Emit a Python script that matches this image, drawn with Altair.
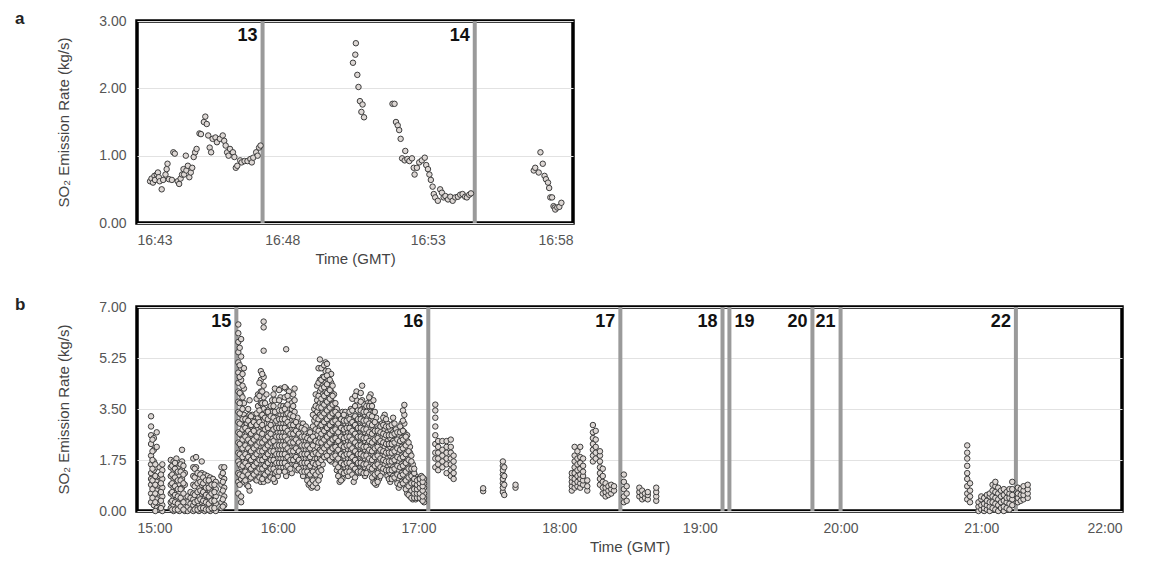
import altair as alt
import pandas as pd

# ---------------- Panel a : minutes after 16:43 GMT ----------------
A_MIN = [0.45, 0.50, 0.55, 0.60, 0.62, 0.68, 0.72, 0.75, 0.78, 0.85, 0.90, 0.98, 1.02, 1.05, 1.10,
         1.20, 1.25, 1.30, 1.40, 1.45, 1.50, 1.55, 1.60, 1.62, 1.68, 1.70, 1.75, 1.80, 1.85, 1.90,
         1.95, 2.00, 2.05, 2.15, 2.20, 2.30, 2.35, 2.40, 2.45, 2.50, 2.55, 2.60, 2.70, 2.75, 2.85,
         2.95, 3.00, 3.05, 3.10, 3.15, 3.20, 3.30, 3.35, 3.40, 3.45, 3.55, 3.60, 3.70, 3.80, 3.90,
         3.95, 4.00, 4.10, 4.15, 4.20, 4.25,
         7.43, 7.51, 7.53, 7.58, 7.62, 7.67, 7.72, 7.76, 7.81,
         8.79, 8.86, 8.91, 8.97, 9.02, 9.07, 9.12, 9.21, 9.23, 9.30, 9.37, 9.46, 9.52, 9.55, 9.63,
         9.71, 9.80, 9.90, 9.95, 10.01, 10.06, 10.11, 10.17, 10.21, 10.26, 10.35, 10.43, 10.49,
         10.55, 10.61, 10.70, 10.78, 10.86, 10.95, 11.04, 11.12, 11.20, 11.29, 11.35, 11.43, 11.49,
         13.65, 13.70, 13.82, 13.88, 13.96, 14.02, 14.07, 14.14, 14.18, 14.22, 14.28, 14.33, 14.37,
         14.39, 14.46, 14.53, 14.60]
A_VAL = [0.62, 0.66, 0.60, 0.70, 0.64, 0.72, 0.75, 0.68, 0.62, 0.50, 0.64, 0.72, 0.80, 0.88, 0.65,
         0.64, 1.05, 1.03, 0.62, 0.58, 0.66, 0.72, 0.80, 0.72, 1.00, 0.78, 0.85, 0.68, 0.75, 0.82,
         0.98, 1.05, 1.10, 1.33, 1.32, 1.50, 1.58, 1.47, 1.30, 1.12, 1.05, 1.25, 1.27, 1.20, 1.25,
         1.30, 1.22, 1.15, 1.05, 1.00, 1.10, 1.05, 0.98, 0.82, 0.85, 0.93, 0.90, 0.92, 0.92, 0.95,
         0.90, 0.97, 1.05, 1.00, 1.12, 1.15,
         2.38, 2.50, 2.67, 2.20, 2.02, 1.81, 1.65, 1.76, 1.57,
         1.77, 1.77, 1.50, 1.45, 1.38, 1.25, 0.96, 0.93, 1.07, 0.95, 0.92, 0.96, 0.82, 0.72, 0.82,
         0.90, 0.93, 0.97, 0.86, 0.80, 0.72, 0.64, 0.54, 0.43, 0.38, 0.33, 0.50, 0.45,
         0.38, 0.40, 0.35, 0.39, 0.33, 0.38, 0.39, 0.42, 0.43, 0.39, 0.38, 0.42, 0.44,
         0.78, 0.82, 0.75, 1.05, 0.88, 0.70, 0.65, 0.60, 0.52, 0.38, 0.38, 0.25, 0.23,
         0.20, 0.23, 0.24, 0.30]
A_LINE_MIN = [4.32, 11.62]
A_LINE_LABEL = ["13", "14"]
A_TICKS = [0, 5, 10, 15]
A_YTICKS = [0, 1, 2, 3]

# ---------------- Panel b : decimal hours GMT ----------------
B_HOURS = [
    15.10, 15.12, 15.14, 15.16, 15.18, 15.24, 15.26, 15.28, 15.30, 15.32, 15.34, 15.36, 15.38,
    15.40, 15.42, 15.44, 15.46, 15.48, 15.50, 15.52, 15.54, 15.56, 15.60, 15.62,
    15.72, 15.74, 15.76, 15.78, 15.80, 15.82, 15.84, 15.86, 15.88, 15.90, 15.92, 15.94, 15.96,
    15.98, 16.00, 16.02, 16.04, 16.06, 16.08, 16.10, 16.12, 16.14, 16.16, 16.18, 16.20, 16.22,
    16.24, 16.26, 16.28, 16.30, 16.32, 16.34, 16.36, 16.38, 16.40, 16.42, 16.44, 16.46, 16.48,
    16.50, 16.52, 16.54, 16.56, 16.58, 16.60, 16.62, 16.64, 16.66, 16.68, 16.70, 16.72, 16.74,
    16.76, 16.78, 16.80, 16.82, 16.84, 16.86, 16.88, 16.90, 16.92, 16.94, 16.96, 16.98, 17.00,
    17.02, 17.04,
    17.12, 17.14, 17.17, 17.20, 17.23, 17.25, 17.46, 17.60, 17.61, 17.69,
    18.09, 18.11, 18.13, 18.15, 18.17, 18.20, 18.24, 18.26, 18.29, 18.31, 18.33, 18.35, 18.37,
    18.39, 18.46, 18.48, 18.57, 18.59, 18.61, 18.63, 18.69,
    20.90, 20.92, 20.98, 21.00, 21.02, 21.04, 21.06, 21.08, 21.10, 21.12, 21.14, 21.16, 21.18,
    21.20, 21.22, 21.26, 21.28, 21.30, 21.33]
B_VALUES = [
    "0.3 0.6 0.9 1.1 1.3 1.6 1.9 2.3 2.6 2.9 3.25",
    "0.2 0.5 0.8 1.0 1.4 1.7 2.1 2.5",
    "0.1 0.4 0.7 1.0 1.5 2.2 2.7",
    "0.05 0.3 0.6 0.9 1.2 1.5",
    "0.0 0.2 0.5 0.8 1.1 1.4 1.6",
    "0.1 0.3 0.6 0.9 1.2 1.5 1.75",
    "0.0 0.2 0.5 0.8 1.1 1.4 1.7",
    "0.1 0.4 0.7 1.0 1.3 1.6 1.8",
    "0.0 0.3 0.6 0.9 1.2 1.5",
    "0.1 0.4 0.8 1.1 1.4 1.7 2.1",
    "0.0 0.2 0.5 0.9 1.3",
    "0.0 0.15 0.3 0.5",
    "0.05 0.25 0.45 0.65",
    "0.0 0.2 0.4 0.6 0.9 1.2 1.5 1.8",
    "0.1 0.3 0.6 0.9 1.2 1.5 1.85",
    "0.0 0.25 0.5 0.8 1.1",
    "0.05 0.3 0.6 0.9 1.3 1.7",
    "0.0 0.2 0.45 0.75 1.0 1.25",
    "0.1 0.35 0.6 0.9 1.2",
    "0.0 0.2 0.4 0.7 1.0 1.15",
    "0.05 0.3 0.55 0.85 1.1",
    "0.0 0.25 0.5 0.75 1.0",
    "0.1 0.3 0.6 0.9 1.2 1.5",
    "0.2 0.5 0.8 1.1 1.5",
    # after line 15
    "0.6 1.0 1.3 1.7 2.0 2.35 2.7 3.05 3.4 3.75 4.1 4.4 4.75 5.1 5.45 5.8 6.1 6.4",
    "0.3 0.5 1.1 1.5 1.9 2.2 2.6 3.0 3.3 3.7 4.0 4.5 4.9 5.3 5.9",
    "1.0 1.3 1.7 2.0 2.3 2.6 2.9 3.3 3.7 4.2 4.9",
    "0.9 1.2 1.5 1.8 2.1 2.4 2.7 3.0 3.2",
    "0.7 1.1 1.4 1.7 2.0 2.3 2.6 2.9 3.3 3.8",
    "1.3 1.6 1.9 2.2 2.5 2.8 3.1 3.3",
    "1.1 1.4 1.7 2.0 2.3 2.6 2.8 3.0",
    "1.2 1.5 1.8 2.1 2.4 2.8 3.2 3.6 4.0",
    "1.0 1.3 1.6 1.9 2.2 2.5 2.9 3.3 3.7 4.1 4.5 4.8",
    "1.0 1.3 1.6 1.9 2.2 2.5 2.8 3.1 3.5 3.9 4.3 4.6 5.5 6.3 6.5",
    "1.1 1.4 1.7 2.0 2.3 2.6 3.0 3.4 4.0",
    "1.2 1.5 1.8 2.1 2.4 2.7 3.0 3.3 3.5",
    "1.3 1.6 1.9 2.2 2.5 2.8 3.1 3.4 3.8",
    "1.0 1.3 1.6 1.9 2.2 2.6 3.0 3.4 3.8 4.2",
    "1.2 1.5 1.8 2.1 2.4 2.7 3.0 3.2",
    "1.5 1.8 2.1 2.4 2.7 3.0 3.3 3.6 3.9 4.2",
    "1.5 1.8 2.1 2.4 2.7 3.0 3.3 3.6",
    "1.2 1.5 1.8 2.1 2.4 2.7 3.0 3.3 3.6 3.9 4.2 5.55",
    "1.4 1.7 2.0 2.3 2.6 2.9 3.2 3.5 3.8 4.1",
    "1.3 1.6 1.9 2.2 2.5 2.8 3.1 3.5 3.7",
    "1.6 1.9 2.2 2.5 2.8 3.1 3.4 3.8 4.2",
    "1.4 1.7 2.0 2.3 2.6 2.9 3.2",
    "1.6 1.9 2.2 2.5 2.8 3.0",
    "1.2 1.5 1.8 2.1 2.4 2.7 3.0",
    "1.5 1.8 2.1 2.4 2.7 2.9",
    "0.9 1.2 1.5 1.8 2.1 2.4 2.6",
    "0.8 1.1 1.4 1.7 2.0 2.3 2.6 2.8",
    "0.9 1.2 1.5 1.8 2.1 2.4 2.7 3.1 3.5",
    "0.8 1.1 1.4 1.8 2.2 2.6 3.0 3.4 3.8 4.3",
    "1.2 1.5 1.8 2.1 2.5 2.9 3.3 3.7 4.1 4.5 4.9 5.2",
    "1.6 1.9 2.2 2.5 2.8 3.1 3.4 3.7 4.0 4.3 4.6",
    "2.0 2.3 2.6 2.9 3.2 3.5 3.8 4.1 4.4 4.8 5.1",
    "1.8 2.1 2.4 2.7 3.0 3.3 3.6 3.9 4.2 4.5 4.8",
    "1.7 2.0 2.3 2.6 2.9 3.2 3.5 3.8 4.1 4.4 4.7",
    "2.2 2.5 2.8 3.1 3.4 3.7 4.0",
    "1.4 1.7 2.0 2.3 2.6 2.9 3.2 3.5",
    "1.0 1.3 1.6 1.9 2.2 2.5 2.8 3.2",
    "1.1 1.4 1.7 2.0 2.3 2.6 2.9 3.1 3.4",
    "1.5 1.8 2.1 2.4 2.7 3.0 3.2 3.4",
    "1.2 1.5 1.8 2.1 2.4 2.7 3.0 3.2",
    "1.5 1.8 2.1 2.4 2.7 3.0 3.3 3.5",
    "1.0 1.3 1.6 1.9 2.2 2.5 2.8 3.0 3.2",
    "1.4 1.7 2.0 2.3 2.6 2.9 3.2 3.5 3.8 4.1",
    "1.3 1.6 1.9 2.2 2.5 2.8 3.1 3.4 3.6",
    "1.4 1.7 2.0 2.3 2.6 2.9 3.2 3.5 3.8 4.3",
    "1.2 1.5 1.8 2.1 2.4 2.7 3.0 3.3 3.5",
    "1.4 1.7 2.0 2.3 2.6 2.9 3.2 3.5 3.7",
    "1.6 1.9 2.2 2.5 2.8 3.1 3.4 3.7 4.0",
    "1.0 1.3 1.6 1.9 2.2 2.5 2.8 3.1 3.4 3.8",
    "0.9 1.2 1.5 1.8 2.1 2.4 2.7 3.0 3.2",
    "1.1 1.4 1.7 2.0 2.3 2.6 2.8",
    "1.3 1.6 1.9 2.2 2.5 2.8 3.0",
    "1.6 1.9 2.2 2.5 2.8 3.1 3.3",
    "1.2 1.5 1.8 2.1 2.4 2.7 3.0",
    "1.0 1.3 1.6 1.9 2.2 2.5 2.8",
    "1.2 1.5 1.8 2.1 2.4 2.7 3.0 3.2",
    "1.1 1.4 1.7 2.0 2.3 2.6 2.8",
    "0.8 1.1 1.4 1.7 2.0 2.3 2.6",
    "1.0 1.3 1.6 1.9 2.2 2.5 2.8 3.0",
    "0.9 1.2 1.5 1.8 2.1 2.4 2.7 3.0 3.3 3.64",
    "0.6 0.9 1.2 1.5 1.8 2.1 2.4 2.6",
    "0.5 0.8 1.1 1.4 1.7 2.0 2.2",
    "0.4 0.6 0.8 1.0 1.2 1.4 1.6",
    "0.4 0.55 0.7 0.85 1.0 1.2",
    "0.5 0.65 0.8 0.95 1.1",
    "0.4 0.55 0.7 0.9 1.05 1.2",
    "0.3 0.45 0.6 0.8 0.95 1.1",
    # after line 16
    "1.5 1.8 2.0 2.3 2.6 2.9 3.2 3.45 3.65",
    "1.4 1.6 1.8 2.0 2.2 2.4",
    "1.5 1.7 1.9 2.1 2.4",
    "1.3 1.6 1.8 2.0 2.2 2.4",
    "1.2 1.4 1.6 1.8 2.0 2.2 2.45",
    "1.1 1.3 1.5 1.7 1.9",
    "0.68 0.78",
    "0.65 0.8 0.95 1.1 1.25 1.4 1.55 1.7",
    "0.55 0.9 1.2 1.5",
    "0.8 0.9",
    "0.7 0.85 1.0 1.15 1.3",
    "0.8 0.95 1.1 1.3 1.5 1.7 1.9 2.2",
    "0.85 1.0 1.2 1.4 1.6 1.8 2.05",
    "0.8 0.95 1.1 1.25 1.45 1.65 1.85 2.2",
    "0.9 1.05 1.2 1.35 1.55 1.8",
    "0.7 0.85 1.05",
    "1.7 1.9 2.1 2.3 2.5 2.7 2.95",
    "1.8 2.0 2.2 2.45 2.75",
    "0.9 1.1 1.3 1.5 1.7 1.9 2.05",
    "0.6 0.8 1.0 1.2 1.45",
    "0.5 0.65 0.8 0.95",
    "0.55 0.7 0.85",
    "0.6 0.75 0.9",
    "0.7 0.85",
    "0.3 0.5 0.75 1.0 1.25",
    "0.35 0.6 0.85",
    "0.5 0.65 0.8",
    "0.4 0.55 0.7",
    "0.45 0.6",
    "0.4 0.55 0.65",
    "0.35 0.5 0.65 0.8",
    "0.4 0.6 0.85 1.1 1.3 1.55 1.8 2.0 2.25",
    "0.3 0.5 0.7 0.95",
    "0.0 0.15 0.3",
    "0.05 0.2 0.4 0.5",
    "0.0 0.1 0.25 0.45",
    "0.05 0.2 0.35 0.55",
    "0.0 0.15 0.3 0.5 0.6",
    "0.1 0.3 0.5 0.7 0.9",
    "0.05 0.25 0.45 0.65 0.85 1.0",
    "0.0 0.2 0.4 0.6 0.8",
    "0.1 0.3 0.5 0.7",
    "0.0 0.15 0.35 0.55 0.75",
    "0.1 0.3 0.45 0.65",
    "0.05 0.25 0.45 0.6 0.75",
    "0.2 0.4 0.55 0.75 1.0",
    "0.3 0.45 0.6 0.8",
    "0.35 0.55 0.75",
    "0.4 0.55 0.7 0.85",
    "0.45 0.6 0.75 0.9"]

# second set of scans, interleaved in time
B_HOURS_2 = [
    15.11, 15.13, 15.17, 15.25, 15.27, 15.29, 15.31, 15.33, 15.41, 15.43, 15.45, 15.47, 15.49,
    15.51, 15.53, 15.55, 15.61,
    15.73, 15.75, 15.77, 15.79, 15.81, 15.83, 15.85, 15.87, 15.89, 15.91, 15.93, 15.95, 15.97,
    15.99, 16.01, 16.03, 16.05, 16.07, 16.09, 16.11, 16.13, 16.15, 16.17, 16.19, 16.21, 16.23,
    16.25, 16.27, 16.29, 16.31, 16.33, 16.35, 16.37, 16.39, 16.41, 16.43, 16.45, 16.47, 16.49,
    16.51, 16.53, 16.55, 16.57, 16.59, 16.61, 16.63, 16.65, 16.67, 16.69, 16.71, 16.73, 16.75,
    16.77, 16.79, 16.81, 16.83, 16.85, 16.87, 16.89, 16.91, 16.93, 16.95, 16.97, 16.99, 17.01,
    17.03]
B_VALUES_2 = [
    "0.45 0.75 1.05 1.45 1.75 2.05 2.45",
    "0.0 0.3 0.6 0.9 1.2 1.6",
    "0.1 0.35 0.65 0.95 1.25",
    "0.05 0.35 0.65 0.95 1.25 1.55",
    "0.05 0.3 0.55 0.85 1.15 1.45 1.65",
    "0.05 0.25 0.5 0.75 1.05 1.35",
    "0.15 0.45 0.75 1.05 1.35 1.6",
    "0.05 0.3 0.6 0.95 1.25 1.55",
    "0.05 0.3 0.55 0.85 1.15 1.45",
    "0.05 0.35 0.65 0.95 1.3",
    "0.1 0.4 0.7 1.0 1.25",
    "0.1 0.35 0.65 0.95 1.15",
    "0.05 0.3 0.55 0.8 1.05",
    "0.05 0.25 0.5 0.8 1.05",
    "0.1 0.35 0.6 0.9",
    "0.1 0.35 0.65 0.9",
    "0.15 0.4 0.7 1.0 1.3",
    "0.9 1.25 1.6 1.95 2.3 2.65 3.0 3.35 3.7 4.05 4.6 5.0 5.6",
    "1.2 1.55 1.85 2.15 2.45 2.8 3.15 3.5 3.9 4.3 4.7",
    "1.05 1.35 1.65 1.95 2.25 2.55 2.85 3.15",
    "0.85 1.25 1.55 1.85 2.15 2.45 2.75 3.1 3.5",
    "1.15 1.45 1.75 2.05 2.35 2.65 2.95 3.25",
    "1.25 1.55 1.85 2.15 2.45 2.75 3.05",
    "1.05 1.35 1.65 1.95 2.25 2.55 2.95 3.35 3.85",
    "1.15 1.45 1.75 2.05 2.35 2.7 3.05 3.45 3.95 4.4",
    "1.1 1.45 1.75 2.05 2.35 2.65 2.95 3.3 3.7 4.1 4.7",
    "1.25 1.55 1.85 2.15 2.45 2.8 3.2 3.7",
    "1.05 1.35 1.65 1.95 2.25 2.55 2.85 3.15 3.4",
    "1.15 1.45 1.75 2.05 2.35 2.65 2.95 3.25 3.6",
    "1.1 1.45 1.75 2.05 2.4 2.8 3.2 3.6 4.0",
    "1.35 1.65 1.95 2.25 2.55 2.85 3.1",
    "1.35 1.65 1.95 2.25 2.55 2.85 3.15 3.45 3.8 4.15",
    "1.65 1.95 2.25 2.55 2.85 3.15 3.45",
    "1.35 1.65 1.95 2.25 2.55 2.85 3.15 3.5 3.9 4.25",
    "1.55 1.85 2.15 2.45 2.75 3.05 3.35 3.65 3.95",
    "1.45 1.75 2.05 2.35 2.65 2.95 3.3",
    "1.75 2.05 2.35 2.65 2.95 3.25 3.6 4.0",
    "1.55 1.85 2.15 2.45 2.75 3.05",
    "1.45 1.75 2.05 2.35 2.65 2.9",
    "1.35 1.65 1.95 2.25 2.55 2.85",
    "1.35 1.65 1.95 2.25 2.55 2.8",
    "1.05 1.35 1.65 1.95 2.25 2.5",
    "0.95 1.25 1.55 1.85 2.15 2.45 2.7",
    "0.85 1.05 1.35 1.65 1.95 2.25 2.55 2.9 3.3",
    "0.95 1.25 1.6 2.0 2.4 2.8 3.2 3.6 4.0",
    "1.05 1.35 1.65 1.95 2.35 2.75 3.15 3.55 3.95 4.4 4.9",
    "1.4 1.75 2.05 2.35 2.65 2.95 3.25 3.55 3.85 4.2 4.5 4.9",
    "1.85 2.15 2.45 2.75 3.05 3.35 3.65 3.95 4.25 4.6 5.0",
    "1.9 2.25 2.55 2.85 3.15 3.45 3.75 4.05 4.35 4.65 5.05",
    "1.75 2.05 2.35 2.65 2.95 3.25 3.55 3.85 4.15 4.5",
    "1.85 2.15 2.45 2.75 3.05 3.35 3.65 3.95 4.3",
    "1.6 1.9 2.2 2.5 2.8 3.1 3.4 3.7",
    "1.2 1.5 1.8 2.1 2.4 2.7 3.0 3.3",
    "1.05 1.35 1.65 1.95 2.25 2.55 2.85 3.15",
    "1.3 1.6 1.9 2.2 2.5 2.8 3.1 3.3",
    "1.35 1.65 1.95 2.25 2.55 2.85 3.1",
    "1.35 1.65 1.95 2.25 2.55 2.85 3.15 3.4",
    "1.25 1.55 1.85 2.15 2.45 2.75 3.05 3.45 3.85",
    "1.15 1.45 1.75 2.05 2.35 2.65 2.95 3.25 3.6 3.95",
    "1.35 1.65 1.95 2.25 2.55 2.85 3.15 3.45",
    "1.35 1.65 1.95 2.25 2.55 2.85 3.15 3.45 3.75 4.05",
    "1.3 1.6 1.9 2.2 2.5 2.8 3.1 3.4",
    "1.3 1.6 1.9 2.2 2.5 2.8 3.1 3.4 3.6",
    "1.5 1.8 2.1 2.4 2.7 3.0 3.3 3.6 3.9",
    "1.15 1.45 1.75 2.05 2.35 2.65 2.95 3.25 3.6",
    "0.95 1.25 1.55 1.85 2.15 2.45 2.75 3.05 3.4",
    "1.0 1.3 1.6 1.9 2.2 2.5 2.75",
    "1.2 1.5 1.8 2.1 2.4 2.7 2.9",
    "1.45 1.75 2.05 2.35 2.65 2.95 3.2",
    "1.4 1.7 2.0 2.3 2.6 2.9 3.15",
    "1.1 1.4 1.7 2.0 2.3 2.6 2.9",
    "1.1 1.4 1.7 2.0 2.3 2.6 2.95",
    "1.15 1.45 1.75 2.05 2.35 2.65 3.0",
    "0.95 1.25 1.55 1.85 2.15 2.45 2.7",
    "0.9 1.2 1.5 1.8 2.1 2.4 2.7 2.9",
    "0.95 1.25 1.55 1.85 2.15 2.45 2.75 3.1 3.45",
    "0.75 1.05 1.35 1.65 1.95 2.25 2.55",
    "0.55 0.85 1.15 1.45 1.75 2.05 2.35",
    "0.45 0.7 0.95 1.2 1.45 1.7 1.9",
    "0.45 0.6 0.75 0.95 1.1 1.3 1.45",
    "0.45 0.6 0.75 0.9 1.05",
    "0.45 0.6 0.8 0.95 1.1",
    "0.35 0.5 0.7 0.85 1.0 1.15"]

B_LINE_HOURS = [15.706, 17.07, 18.435, 19.161, 19.21, 19.80, 20.00, 21.246]
B_LINE_LABEL = ["15", "16", "17", "18", "19", "20", "21", "22"]
B_LABEL_SIDE = ["L", "L", "L", "L", "R", "L", "L", "L"]
B_TICKS = [15, 16, 17, 18, 19, 20, 21, 22]
B_YTICKS = [0, 1.75, 3.5, 5.25, 7]

FONT = "Liberation Sans"
PT_FILL = "#ddd7d4"
PT_STROKE = "#3c3c3c"
LINE_COLOR = "#9a9a9a"

df_a = pd.DataFrame({"t": A_MIN, "v": A_VAL})
rows = []
for hrs, vals in ((B_HOURS, B_VALUES), (B_HOURS_2, B_VALUES_2)):
    for h, s in zip(hrs, vals):
        for v in s.split():
            rows.append({"t": h, "v": float(v)})
df_b = pd.DataFrame(rows)
lines_a = pd.DataFrame({"t": A_LINE_MIN, "lab": A_LINE_LABEL, "side": ["L", "L"]})
lines_b = pd.DataFrame({"t": B_LINE_HOURS, "lab": B_LINE_LABEL, "side": B_LABEL_SIDE})


def panel(df, lines, xdom, xticks, xlabel_expr, ydom, yticks, w, h, letter):
    xs = alt.Scale(domain=xdom, nice=False, zero=False)
    ys = alt.Scale(domain=ydom, nice=False)
    xax = alt.Axis(values=xticks, labelExpr=xlabel_expr, grid=False, title="Time (GMT)",
                   labelPadding=10, titlePadding=4)
    yax = alt.Axis(values=yticks, format=".2f", grid=True, title="SO₂ Emission Rate (kg/s)",
                   labelPadding=11, titlePadding=27)
    pts = alt.Chart(df).mark_point(shape="circle", filled=True, fill=PT_FILL, stroke=PT_STROKE,
                                   strokeWidth=1, size=30, opacity=1).encode(
        x=alt.X("t:Q", scale=xs, axis=xax),
        y=alt.Y("v:Q", scale=ys, axis=yax))
    rules = alt.Chart(lines).mark_rule(color=LINE_COLOR, strokeWidth=4).encode(
        x=alt.X("t:Q", scale=xs))
    lab_l = alt.Chart(lines).transform_filter(alt.datum.side == "L").mark_text(
        align="right", baseline="middle", dx=-5, font=FONT, fontSize=18, fontWeight="bold",
        color="#111").encode(x=alt.X("t:Q", scale=xs), y=alt.value(15), text="lab:N")
    lab_r = alt.Chart(lines).transform_filter(alt.datum.side == "R").mark_text(
        align="left", baseline="middle", dx=5, font=FONT, fontSize=18, fontWeight="bold",
        color="#111").encode(x=alt.X("t:Q", scale=xs), y=alt.value(15), text="lab:N")
    let = alt.Chart(pd.DataFrame({"s": [letter]})).mark_text(
        align="left", baseline="middle", font=FONT, fontSize=17, fontWeight="bold",
        color="#222").encode(x=alt.value(-122), y=alt.value(-2), text="s:N")
    return alt.layer(rules, pts, lab_l, lab_r, let).properties(width=w, height=h)


pa = panel(df_a, lines_a, [0, 15], A_TICKS, "'16:' + (43 + datum.value)", [0, 3], A_YTICKS,
           436, 202, "a")
pb = panel(df_b, lines_b, [15, 22], B_TICKS, "datum.value + ':00'", [0, 7], B_YTICKS,
           985, 204, "b")

chart = alt.vconcat(pa, pb, spacing=26).properties(
    padding={"top": 0, "left": 5, "right": 5, "bottom": 5}
).configure(
    background="white"
).configure_view(
    stroke="#000", strokeWidth=3.5
).configure_axis(
    domain=False, ticks=False, labelFont=FONT, labelFontSize=14, labelColor="#555",
    titleFont=FONT, titleFontSize=15, titleFontWeight="normal", titleColor="#444",
    gridColor="#e2e2e2", gridWidth=1
)

chart.save("out.html", embed_options={"renderer": "svg", "actions": False})
